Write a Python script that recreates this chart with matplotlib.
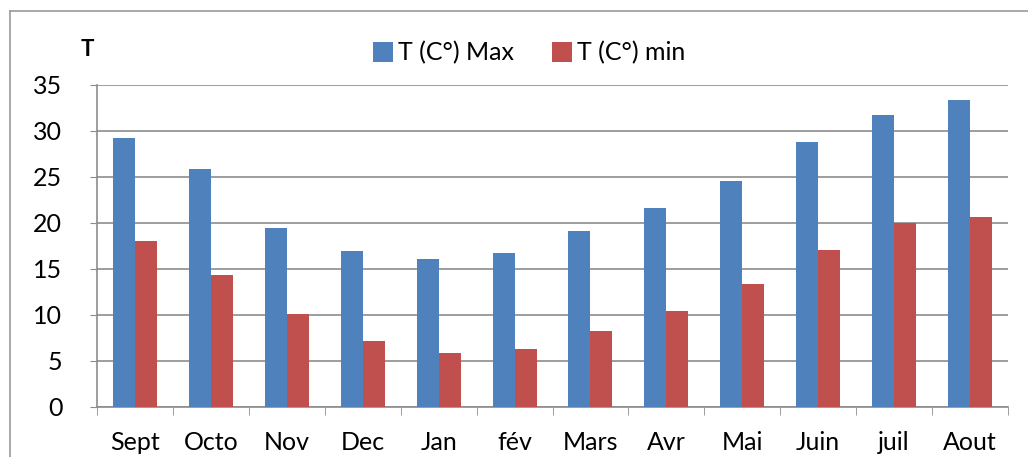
import matplotlib.pyplot as plt
import numpy as np
from matplotlib.lines import Line2D

# Monthly temperatures
months = ['Sept', 'Octo', 'Nov', 'Dec', 'Jan', 'fév', 'Mars', 'Avr', 'Mai', 'Juin', 'juil', 'Aout']
t_max = [29.2, 25.9, 19.5, 17.0, 16.1, 16.7, 19.1, 21.6, 24.6, 28.8, 31.7, 33.4]
t_min = [18.0, 14.4, 10.1, 7.2, 5.9, 6.3, 8.3, 10.4, 13.4, 17.1, 20.0, 20.6]
y_ticks = [0, 5, 10, 15, 20, 25, 30, 35]

blue = '#4f81bd'
red = '#c0504d'
grid_color = '#8c8c8c'
plt.rcParams['font.family'] = ['Lato', 'DejaVu Sans']

fig = plt.figure(figsize=(10.28, 4.57), dpi=100)
ax = fig.add_axes([97 / 1028, 1 - 407 / 457, (1008 - 97) / 1028, (407 - 85) / 457])

x = np.arange(len(months))
w = 0.29
ax.bar(x - w / 2, t_max, w, color=blue, label='T (C°) Max', zorder=3)
ax.bar(x + w / 2, t_min, w, color=red, label='T (C°) min', zorder=3)

ax.set_xlim(-0.5, len(months) - 0.5)
ax.set_ylim(0, 35)
ax.set_yticks(y_ticks)
ax.yaxis.grid(True, color=grid_color, linewidth=1.2, zorder=0)
ax.set_xticks(x)
ax.set_xticklabels(months, fontsize=18)
ax.set_xticks(np.arange(-0.5, len(months)), minor=True)
ax.tick_params(axis='x', which='major', length=0, pad=17)
ax.tick_params(axis='x', which='minor', length=6, color=grid_color, direction='out')
ax.tick_params(axis='y', length=5, color=grid_color, labelsize=18, pad=20)
for lbl in ax.get_yticklabels():
    lbl.set_horizontalalignment('right')

for s in ['top', 'right']:
    ax.spines[s].set_visible(False)
for s in ['left', 'bottom']:
    ax.spines[s].set_color(grid_color)
    ax.spines[s].set_linewidth(1.2)

# axis title "T" above y axis
fig.text(87 / 1028, 1 - 50 / 457, 'T', fontsize=16, fontweight='bold', ha='center', va='center')

fig.legend(loc='center', bbox_to_anchor=(529 / 1028, 1 - 53 / 457), ncol=2, frameon=False,
           fontsize=18, handlelength=0.8, handleheight=0.8, handletextpad=0.2, columnspacing=1.5)

# outer chart border (top and left visible)
fig.add_artist(Line2D([10 / 1028, 1], [1 - 11 / 457, 1 - 11 / 457], color='#999999', linewidth=1.2))
fig.add_artist(Line2D([10 / 1028, 10 / 1028], [0, 1 - 11 / 457], color='#999999', linewidth=1.2))

fig.savefig('out.png', dpi=100, facecolor='white')
